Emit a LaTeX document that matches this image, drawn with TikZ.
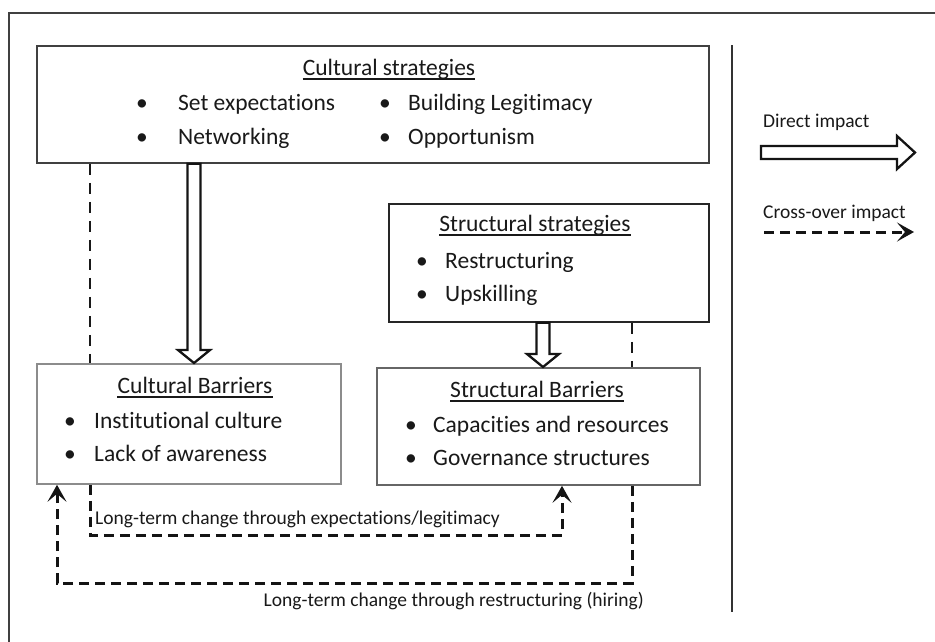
\documentclass[tikz,border=0pt]{standalone}
\usepackage{fontspec}
\setmainfont{Carlito}[Ligatures=NoCommon]
\usetikzlibrary{calc,arrows.meta}
\newcommand\hollowarr[5]{%
  \coordinate (hb) at ($(#2)!#5!(#1)$);
  \draw[hollow] ($(#1)!#3!90:(#2)$) -- ($(hb)!#3!90:(#2)$) -- ($(hb)!#4!90:(#2)$) -- (#2)
     -- ($(hb)!#4!-90:(#2)$) -- ($(hb)!#3!-90:(#2)$) -- ($(#1)!#3!-90:(#2)$) -- cycle;}
\begin{document}
\begin{tikzpicture}[x=1pt,y=-1pt,
  box/.style={draw, line width=1.8pt, fill=white, inner sep=0pt, anchor=north west},
  txt/.style={inner sep=0pt, font=\fontsize{23.5}{28}\selectfont, text=black!90},
  lbl/.style={inner sep=0pt, font=\fontsize{19.5}{23}\selectfont, text=black!90},
  uline/.style={line width=1.8pt, black!90},
  hollow/.style={draw=black!92, fill=white, line width=2.3pt, line join=miter},
  xthin/.style={line width=1.9pt, black!90, dash pattern=on 11pt off 8pt},
  xthick/.style={line width=3pt, black!92, dash pattern=on 10pt off 6pt},
  tipx/.style={-{Stealth[length=17pt,width=19pt,inset=8pt]}},
]
\clip (0,0) rectangle (935,641);
\fill[white] (0,0) rectangle (935,641);
% outer frame and divider
\draw[line width=2pt, black!75] (9,700) -- (9,13) -- (960,13);
\coordinate (dv1) at (732,45);
\coordinate (dv2) at (732,612);
\draw[line width=1.9pt, black!80] (dv1) -- (dv2);

% boxes
\node[box, draw=black!75, minimum width=672pt, minimum height=117pt] (cs) at (36,45) {};
\node[box, draw=black!85, minimum width=320pt, minimum height=118pt] (ss) at (388,203) {};
\node[box, draw=black!45, minimum width=304pt, minimum height=120pt] (cb) at (36,363) {};
\node[box, draw=black!60, minimum width=323pt, minimum height=117pt] (sb) at (376,367) {};

% Cultural strategies text
\node[txt, anchor=base] (cst) at (389,75) {Cultural strategies};
\draw[uline] ([yshift=-4pt]cst.base west) -- ([yshift=-4pt]cst.base east);
\node[txt, anchor=base] (cs1b) at (142,110) {•};
\node[txt, anchor=base west] (cs1) at (178,110) {Set expectations};
\node[txt, anchor=base] (cs2b) at (142,144) {•};
\node[txt, anchor=base west] (cs2) at (178,144) {Networking};
\node[txt, anchor=base] (cs3b) at (385,110) {•};
\node[txt, anchor=base west] (cs3) at (408,110) {Building Legitimacy};
\node[txt, anchor=base] (cs4b) at (385,144) {•};
\node[txt, anchor=base west] (cs4) at (408,144) {Opportunism};

% Structural strategies text
\node[txt, anchor=base] (sst) at (535,231) {Structural strategies};
\draw[uline] ([yshift=-4pt]sst.base west) -- ([yshift=-4pt]sst.base east);
\node[txt, anchor=base] (ss1b) at (422,268) {•};
\node[txt, anchor=base west] (ss1) at (445,268) {Restructuring};
\node[txt, anchor=base] (ss2b) at (422,301) {•};
\node[txt, anchor=base west] (ss2) at (445,301) {Upskilling};

% Cultural Barriers text
\node[txt, anchor=base] (cbt) at (195,393) {Cultural Barriers};
\draw[uline] ([yshift=-4pt]cbt.base west) -- ([yshift=-4pt]cbt.base east);
\node[txt, anchor=base] (cb1b) at (70,428) {•};
\node[txt, anchor=base west] (cb1) at (94,428) {Institutional culture};
\node[txt, anchor=base] (cb2b) at (70,461) {•};
\node[txt, anchor=base west] (cb2) at (94,461) {Lack of awareness};

% Structural Barriers text
\node[txt, anchor=base] (sbt) at (537,397) {Structural Barriers};
\draw[uline] ([yshift=-4pt]sbt.base west) -- ([yshift=-4pt]sbt.base east);
\node[txt, anchor=base] (sb1b) at (411,432) {•};
\node[txt, anchor=base west] (sb1) at (433,432) {Capacities and resources};
\node[txt, anchor=base] (sb2b) at (411,465) {•};
\node[txt, anchor=base west] (sb2) at (433,465) {Governance structures};

% direct impact arrows
\coordinate (x194) at (194,0);
\coordinate (x543) at (543,0);
\hollowarr{cs.south -| x194}{cb.north -| x194}{6.5pt}{16pt}{13pt}
\hollowarr{ss.south -| x543}{sb.north -| x543}{6.5pt}{16pt}{13pt}

% cross-over impact
\coordinate (la) at (90,535);
\coordinate (lb) at (562,535);
\coordinate (lc) at (632,583);
\coordinate (ld) at (57,583);
\draw[xthin] (cs.south -| la) -- (cb.north -| la);
\draw[xthin] (ss.south -| lc) -- (sb.north -| lc);
\draw[xthick, tipx] (cb.south -| la) -- (la) -- (lb) -- (sb.south -| lb);
\draw[xthick, tipx] (sb.south -| lc) -- (lc) -- (ld) -- (cb.south -| ld);

\node[lbl, anchor=base west] (l1) at (95,524) {Long-term change through expectations/legitimacy};
\node[lbl, anchor=base east] (l2) at (644,606) {Long-term change through restructuring (hiring)};

% legend
\node[lbl, anchor=base west] (lg1) at (763,127) {Direct impact};
\coordinate (dA) at (761,152.5);
\coordinate (dB) at (915,152.5);
\hollowarr{dA}{dB}{6.5pt}{16.5pt}{18pt}
\node[lbl, anchor=base west] (lg2) at (763,218) {Cross-over impact};
\coordinate (cA) at (764,232);
\coordinate (cB) at (914,232);
\draw[xthick, tipx] (cA) -- (cB);
\end{tikzpicture}
\end{document}
